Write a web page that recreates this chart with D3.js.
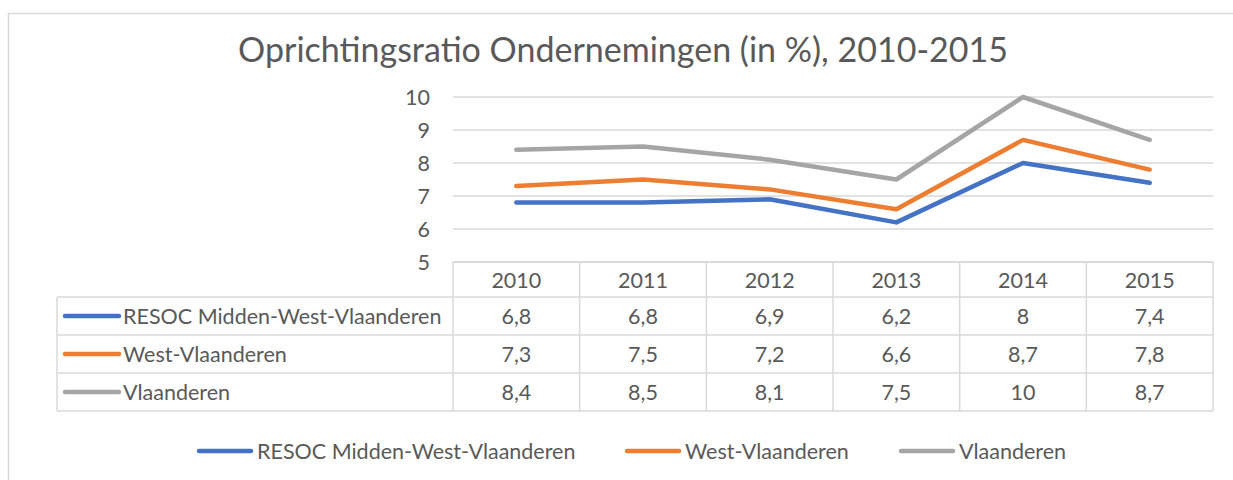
<!DOCTYPE html>
<html>
<head>
<meta charset="utf-8">
<script src="https://cdn.jsdelivr.net/npm/d3@7"></script>
<style>
  body { margin: 0; background: #fff; }
  text { font-family: Lato, "Open Sans", sans-serif; fill: #595959; }
</style>
</head>
<body>
<svg width="1233" height="480"></svg>
<script>
const years = ['2010', '2011', '2012', '2013', '2014', '2015']
const seriesNames = ['RESOC Midden-West-Vlaanderen', 'West-Vlaanderen', 'Vlaanderen']
const resoc = [6.8, 6.8, 6.9, 6.2, 8, 7.4]
const westVl = [7.3, 7.5, 7.2, 6.6, 8.7, 7.8]
const vlaanderen = [8.4, 8.5, 8.1, 7.5, 10, 8.7]
const yTicks = [5, 6, 7, 8, 9, 10]
const colors = ['#4472C4', '#ED7D31', '#A5A5A5']

const series = [resoc, westVl, vlaanderen].map((vals, i) => ({name: seriesNames[i], values: vals, color: colors[i]}))

const svg = d3.select('svg')
const grid = '#d9d9d9'
const fs = '21.5px'
const fmt = v => String(v).replace('.', ',')

// chart frame
svg.append('rect')
    .attr('x', 8.5).attr('y', 13.5)
    .attr('width', 1240).attr('height', 480)
    .attr('fill', 'none').attr('stroke', grid).attr('stroke-width', 1.5)

svg.append('text')
    .attr('x', 623).attr('y', 62)
    .attr('text-anchor', 'middle')
    .style('font-size', '34px')
    .text('Oprichtingsratio Ondernemingen (in %), 2010-2015')

const x = d3.scaleBand().domain(years).range([453, 1213]).padding(0)
const y = d3.scaleLinear().domain([5, 10]).range([262, 97])

// gridlines
svg.append('g').selectAll('line')
    .data(yTicks)
    .enter().append('line')
    .attr('x1', 453).attr('x2', 1213)
    .attr('y1', d => y(d)).attr('y2', d => y(d))
    .attr('stroke', grid).attr('stroke-width', 1.5)

// y axis labels
svg.append('g').selectAll('text')
    .data(yTicks)
    .enter().append('text')
    .attr('x', 430).attr('y', d => y(d))
    .attr('dy', '0.35em')
    .attr('text-anchor', 'end')
    .style('font-size', fs)
    .text(d => d)

// lines
const line = d3.line()
    .x((d, i) => x(years[i]) + x.bandwidth() / 2)
    .y(d => y(d))

svg.append('g').selectAll('path')
    .data(series.slice().reverse())
    .enter().append('path')
    .attr('d', d => line(d.values))
    .attr('fill', 'none')
    .attr('stroke', d => d.color)
    .attr('stroke-width', 4.5)
    .attr('stroke-linecap', 'round')
    .attr('stroke-linejoin', 'round')

// data table
const rowH = 38
const headTop = 262, headH = 35
const rowsTop = headTop + headH
const tableLeft = 57
const tbl = svg.append('g')

tbl.append('line').attr('x1', 453).attr('x2', 1213).attr('y1', headTop).attr('y2', headTop).attr('stroke', grid).attr('stroke-width', 1.5)
d3.range(series.length + 1).forEach(i => {
    tbl.append('line')
        .attr('x1', tableLeft).attr('x2', 1213)
        .attr('y1', rowsTop + i * rowH).attr('y2', rowsTop + i * rowH)
        .attr('stroke', grid).attr('stroke-width', 1.5)
})
tbl.append('line').attr('x1', tableLeft).attr('x2', tableLeft)
    .attr('y1', rowsTop).attr('y2', rowsTop + series.length * rowH)
    .attr('stroke', grid).attr('stroke-width', 1.5)
years.forEach(yr => {
    tbl.append('line').attr('x1', x(yr)).attr('x2', x(yr))
        .attr('y1', headTop).attr('y2', rowsTop + series.length * rowH)
        .attr('stroke', grid).attr('stroke-width', 1.5)
})
tbl.append('line').attr('x1', 1213).attr('x2', 1213)
    .attr('y1', headTop).attr('y2', rowsTop + series.length * rowH)
    .attr('stroke', grid).attr('stroke-width', 1.5)

tbl.selectAll('.yr')
    .data(years)
    .enter().append('text')
    .attr('class', 'yr')
    .attr('x', d => x(d) + x.bandwidth() / 2)
    .attr('y', headTop + headH / 2 + 1)
    .attr('dy', '0.35em')
    .attr('text-anchor', 'middle')
    .style('font-size', fs)
    .text(d => d)

series.forEach((s, i) => {
    const cy = rowsTop + i * rowH + rowH / 2
    tbl.append('line')
        .attr('x1', 65).attr('x2', 119)
        .attr('y1', cy).attr('y2', cy)
        .attr('stroke', s.color).attr('stroke-width', 4.5).attr('stroke-linecap', 'round')
    tbl.append('text')
        .attr('x', 123).attr('y', cy)
        .attr('dy', '0.35em')
        .style('font-size', fs)
        .text(s.name)
    tbl.selectAll('.v' + i)
        .data(s.values)
        .enter().append('text')
        .attr('x', (d, j) => x(years[j]) + x.bandwidth() / 2)
        .attr('y', cy)
        .attr('dy', '0.35em')
        .attr('text-anchor', 'middle')
        .style('font-size', fs)
        .text(d => fmt(d))
})

// legend
const legendX = [197, 625, 899]
const leg = svg.append('g')
series.forEach((s, i) => {
    leg.append('line')
        .attr('x1', legendX[i] + 2).attr('x2', legendX[i] + 54)
        .attr('y1', 451).attr('y2', 451)
        .attr('stroke', s.color).attr('stroke-width', 4.5).attr('stroke-linecap', 'round')
    leg.append('text')
        .attr('x', legendX[i] + 60).attr('y', 451)
        .attr('dy', '0.35em')
        .style('font-size', fs)
        .text(s.name)
})
</script>
</body>
</html>
